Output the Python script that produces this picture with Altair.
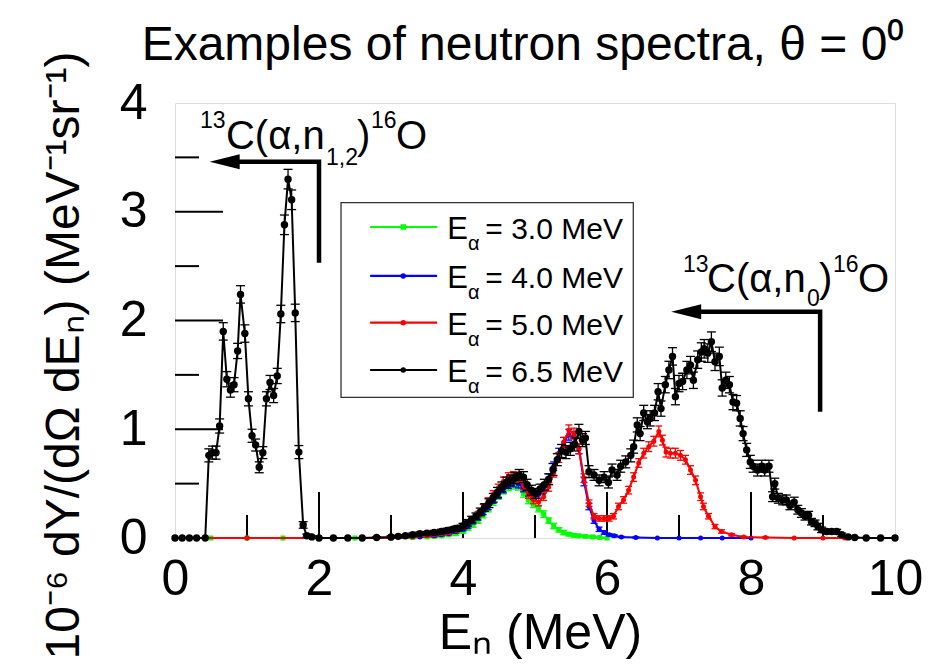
import altair as alt
import pandas as pd

FONT = "Liberation Sans"

# ---------------- data ----------------
# E_alpha = 6.5 MeV (black)
BLACK_E = [0.00, 0.10, 0.20, 0.30, 0.42, 0.47, 0.52, 0.57, 0.62, 0.67,
           0.72, 0.77, 0.82, 0.87, 0.91, 0.97, 1.02, 1.07, 1.12, 1.17,
           1.22, 1.27, 1.32, 1.37, 1.42, 1.47, 1.52, 1.57, 1.62, 1.67,
           1.72, 1.78, 1.83, 1.90, 2.00, 2.20, 2.40, 2.60, 2.80, 3.00,
           3.10, 3.20, 3.30, 3.40, 3.50, 3.60, 3.70, 3.78, 3.86, 3.93,
           4.00, 4.06, 4.12, 4.18, 4.24, 4.30, 4.36, 4.42, 4.48, 4.54,
           4.60, 4.66, 4.72, 4.78, 4.84, 4.89, 4.95, 5.01, 5.07, 5.13,
           5.19, 5.25, 5.31, 5.37, 5.43, 5.49, 5.55, 5.61, 5.66, 5.70,
           5.75, 5.82, 5.89, 5.96, 6.02, 6.07, 6.14, 6.19, 6.26, 6.33,
           6.37, 6.42, 6.46, 6.51, 6.56, 6.60, 6.66, 6.71, 6.75, 6.81,
           6.86, 6.91, 6.95, 7.00, 7.05, 7.11, 7.16, 7.20, 7.26, 7.31,
           7.35, 7.40, 7.45, 7.50, 7.56, 7.60, 7.65, 7.70, 7.75, 7.80,
           7.85, 7.89, 7.94, 7.99, 8.03, 8.09, 8.15, 8.19, 8.25, 8.30,
           8.33, 8.38, 8.44, 8.49, 8.54, 8.60, 8.65, 8.70, 8.75, 8.80,
           8.84, 8.89, 8.93, 8.98, 9.05, 9.12, 9.19, 9.26, 9.35, 9.44,
           9.60, 9.80, 10.00]
BLACK_Y = [0, 0, 0, 0, 0, 0.76, 0.785, 0.785, 1.03, 1.90,
           1.46, 1.36, 1.41, 1.72, 2.24, 1.88, 1.28, 0.94, 0.855, 0.65,
           0.785, 1.28, 1.43, 1.31, 1.49, 2.06, 2.88, 3.30, 3.11, 2.07,
           0.79, 0.12, 0.02, 0.01, 0, 0, 0, 0, 0.005, 0.01,
           0.015, 0.02, 0.03, 0.04, 0.045, 0.05, 0.06, 0.07, 0.08, 0.09,
           0.11, 0.14, 0.17, 0.20, 0.24, 0.28, 0.32, 0.37, 0.42, 0.47,
           0.51, 0.53, 0.55, 0.58, 0.56, 0.49, 0.44, 0.41, 0.45, 0.49,
           0.54, 0.63, 0.72, 0.80, 0.79, 0.82, 0.86, 0.98, 0.90, 0.92,
           0.61, 0.58, 0.53, 0.56, 0.51, 0.625, 0.58, 0.66, 0.70, 0.76,
           0.84, 1.04, 0.96, 1.15, 1.07, 1.10, 1.15, 1.345, 1.19, 1.41,
           1.545, 1.67, 1.30, 1.42, 1.44, 1.545, 1.59, 1.45, 1.64, 1.71,
           1.74, 1.70, 1.805, 1.62, 1.67, 1.38, 1.45, 1.41, 1.25, 1.24,
           1.10, 0.96, 0.81, 0.70, 0.66, 0.625, 0.66, 0.625, 0.66, 0.38,
           0.50, 0.365, 0.35, 0.35, 0.30, 0.33, 0.26, 0.23, 0.20, 0.21,
           0.15, 0.135, 0.105, 0.075, 0.06, 0.06, 0.06, 0.03, 0.01, 0.005,
           0, 0, 0]
BLACK_ERR = [0, 0, 0, 0, 0, 0.06, 0.06, 0.06, 0.065, 0.08,
             0.07, 0.065, 0.065, 0.07, 0.08, 0.08, 0.065, 0.06, 0.055, 0.05,
             0.055, 0.065, 0.065, 0.065, 0.07, 0.08, 0.09, 0.09, 0.09, 0.08,
             0.06, 0.03, 0.015, 0.01, 0, 0, 0, 0, 0.005, 0.01,
             0.01, 0.01, 0.015, 0.015, 0.015, 0.02, 0.02, 0.02, 0.02, 0.025,
             0.025, 0.03, 0.03, 0.03, 0.035, 0.035, 0.04, 0.04, 0.045, 0.045,
             0.05, 0.05, 0.05, 0.05, 0.05, 0.05, 0.045, 0.045, 0.045, 0.05,
             0.05, 0.055, 0.055, 0.06, 0.06, 0.06, 0.06, 0.065, 0.06, 0.06,
             0.055, 0.05, 0.05, 0.05, 0.05, 0.055, 0.05, 0.055, 0.055, 0.06,
             0.06, 0.065, 0.065, 0.07, 0.065, 0.07, 0.07, 0.075, 0.07, 0.075,
             0.08, 0.08, 0.075, 0.075, 0.075, 0.08, 0.08, 0.075, 0.08, 0.085,
             0.085, 0.085, 0.09, 0.08, 0.085, 0.075, 0.075, 0.075, 0.07, 0.07,
             0.07, 0.065, 0.06, 0.06, 0.055, 0.055, 0.055, 0.055, 0.055, 0.045,
             0.05, 0.045, 0.045, 0.045, 0.04, 0.045, 0.04, 0.04, 0.035, 0.035,
             0.03, 0.03, 0.03, 0.025, 0.02, 0.02, 0.02, 0.015, 0.01, 0.005,
             0, 0, 0]

# E_alpha = 3.0 MeV (green)
GREEN_E = [0.0, 0.5, 1.0, 1.5, 2.0, 2.5, 3.0, 3.3, 3.5, 3.6,
           3.7, 3.8, 3.9, 4.0, 4.07, 4.14, 4.21, 4.28, 4.35, 4.42,
           4.49, 4.56, 4.63, 4.70, 4.77, 4.84, 4.91, 4.98, 5.05, 5.12,
           5.19, 5.26, 5.33, 5.40, 5.47, 5.54, 5.61, 5.70, 5.80, 5.90,
           6.00]
GREEN_Y = [0, 0, 0, 0, 0, 0, 0, 0.005, 0.01, 0.015,
           0.02, 0.03, 0.04, 0.06, 0.09, 0.12, 0.16, 0.21, 0.27, 0.33,
           0.39, 0.44, 0.47, 0.49, 0.48, 0.41, 0.35, 0.31, 0.27, 0.22,
           0.16, 0.11, 0.075, 0.05, 0.035, 0.025, 0.02, 0.015, 0.01, 0.005,
           0]
GREEN_ERR = [0, 0, 0, 0, 0, 0, 0, 0.005, 0.005, 0.01,
             0.01, 0.01, 0.015, 0.015, 0.02, 0.02, 0.025, 0.025, 0.03, 0.03,
             0.035, 0.035, 0.035, 0.04, 0.04, 0.035, 0.035, 0.03, 0.03, 0.03,
             0.025, 0.025, 0.02, 0.02, 0.015, 0.015, 0.01, 0.01, 0.01, 0.005,
             0]

# E_alpha = 4.0 MeV (blue)
BLUE_E = [0.0, 1.0, 2.0, 3.0, 3.4, 3.6, 3.7, 3.8, 3.9, 4.0,
          4.07, 4.14, 4.21, 4.28, 4.35, 4.42, 4.49, 4.56, 4.63, 4.70,
          4.77, 4.84, 4.91, 4.98, 5.05, 5.12, 5.19, 5.26, 5.33, 5.40,
          5.47, 5.54, 5.61, 5.68, 5.75, 5.82, 5.89, 5.96, 6.03, 6.10,
          6.20, 6.40, 6.70, 7.00, 7.30, 7.60, 8.00]
BLUE_Y = [0, 0, 0, 0, 0.01, 0.02, 0.03, 0.04, 0.06, 0.08,
          0.11, 0.15, 0.19, 0.24, 0.29, 0.35, 0.40, 0.45, 0.49, 0.51,
          0.50, 0.46, 0.42, 0.39, 0.40, 0.46, 0.55, 0.66, 0.78, 0.88,
          0.95, 0.93, 0.82, 0.52, 0.29, 0.16, 0.08, 0.05, 0.03, 0.02,
          0.01, 0.005, 0, 0, 0, 0, 0]
BLUE_ERR = [0, 0, 0, 0, 0.005, 0.01, 0.01, 0.01, 0.015, 0.015,
            0.02, 0.02, 0.025, 0.025, 0.03, 0.03, 0.035, 0.035, 0.035, 0.04,
            0.04, 0.035, 0.035, 0.035, 0.035, 0.035, 0.04, 0.04, 0.045, 0.045,
            0.05, 0.05, 0.045, 0.04, 0.03, 0.025, 0.02, 0.015, 0.01, 0.01,
            0.005, 0.005, 0, 0, 0, 0, 0]

# E_alpha = 5.0 MeV (red)
RED_E = [0.0, 1.0, 2.0, 3.0, 3.3, 3.5, 3.6, 3.7, 3.8, 3.9,
         4.0, 4.07, 4.14, 4.21, 4.28, 4.35, 4.42, 4.49, 4.56, 4.63,
         4.70, 4.77, 4.84, 4.91, 4.98, 5.05, 5.12, 5.19, 5.26, 5.33,
         5.40, 5.47, 5.54, 5.61, 5.68, 5.75, 5.82, 5.89, 5.96, 6.03,
         6.09, 6.16, 6.23, 6.30, 6.37, 6.44, 6.51, 6.58, 6.65, 6.72,
         6.77, 6.82, 6.88, 6.95, 7.02, 7.09, 7.16, 7.23, 7.30, 7.34,
         7.41, 7.50, 7.59, 7.73, 7.90, 8.20, 8.60, 9.00, 9.30]
RED_Y = [0, 0, 0, 0, 0.01, 0.02, 0.03, 0.04, 0.05, 0.07,
         0.10, 0.13, 0.17, 0.22, 0.28, 0.34, 0.40, 0.46, 0.52, 0.56,
         0.57, 0.55, 0.48, 0.40, 0.35, 0.33, 0.38, 0.47, 0.60, 0.74,
         0.88, 0.99, 0.96, 0.82, 0.55, 0.32, 0.20, 0.18, 0.18, 0.18,
         0.20, 0.29, 0.35, 0.44, 0.56, 0.69, 0.78, 0.84, 0.89, 0.98,
         0.90, 0.79, 0.78, 0.78, 0.76, 0.72, 0.625, 0.53, 0.38, 0.29,
         0.20, 0.105, 0.06, 0.03, 0.01, 0.005, 0, 0, 0]
RED_ERR = [0, 0, 0, 0, 0.005, 0.01, 0.01, 0.01, 0.015, 0.015,
           0.02, 0.02, 0.025, 0.025, 0.03, 0.03, 0.035, 0.035, 0.04, 0.04,
           0.04, 0.04, 0.035, 0.035, 0.035, 0.035, 0.035, 0.04, 0.04, 0.045,
           0.045, 0.05, 0.05, 0.045, 0.04, 0.03, 0.025, 0.025, 0.025, 0.025,
           0.025, 0.03, 0.03, 0.035, 0.04, 0.04, 0.045, 0.045, 0.045, 0.05,
           0.045, 0.045, 0.045, 0.045, 0.045, 0.04, 0.04, 0.04, 0.035, 0.03,
           0.025, 0.02, 0.015, 0.01, 0.005, 0.005, 0, 0, 0]

# axis tick positions
X_LABELS = [0, 2, 4, 6, 8, 10]
Y_LABELS = [0, 1, 2, 3, 4]
X_MAJOR = [2, 4, 6, 8]
X_MINOR = [1, 3, 5, 7, 9]
Y_MAJOR = [1, 2, 3]
Y_MINOR = [0.5, 1.5, 2.5, 3.5]

# legend
LEG_TEXT = ["= 3.0 MeV", "= 4.0 MeV", "= 5.0 MeV", "= 6.5 MeV"]
LEG_COLOR = ["#00ff00", "#0000ff", "#ff0000", "#000000"]
LEG_SHAPE = ["square", "circle", "circle", "circle"]
LEG_ROW_Y = [2.86, 2.41, 1.98, 1.545]
LEG_BOX_X = [2.306, 6.365]
LEG_BOX_Y = [1.294, 3.083]
LEG_LINE_X = [2.71, 3.64]
LEG_MARK_X = 3.17
LEG_E_X = 3.78
LEG_SUB_X = 4.07
LEG_VAL_X = 4.31

# annotations: 13C(a,n_{1,2})16O and 13C(a,n_0)16O
ANN_BIG_T = ["C(α,n", ")", "O", "C(α,n", ")", "O"]
ANN_BIG_X = [0.708, 2.528, 3.069, 7.389, 8.944, 9.486]
ANN_BIG_Y = [3.58, 3.58, 3.58, 2.26, 2.26, 2.26]
ANN_SMALL_T = ["13", "1,2", "16", "13", "0", "16"]
ANN_SMALL_X = [0.347, 2.097, 2.722, 7.056, 8.778, 9.139]
ANN_SMALL_Y = [3.77, 3.43, 3.77, 2.45, 2.13, 2.45]
ARROW_ID = [1, 1, 1, 2, 2, 2]
ARROW_K = [0, 1, 2, 0, 1, 2]
ARROW_X = [0.69, 2.00, 2.00, 7.10, 8.96, 8.96]
ARROW_Y = [3.46, 3.46, 2.53, 2.08, 2.08, 1.16]
HEAD_X = [0.69, 7.10]
HEAD_Y = [3.46, 2.08]

# ---------------- scales / axes ----------------
XS = alt.Scale(domain=[0, 10], nice=False, zero=False)
YS = alt.Scale(domain=[0, 4], nice=False, zero=False)
XA = alt.Axis(title="Eₙ (MeV)", values=X_LABELS, format="d", ticks=False, tickSize=0,
              domain=False, grid=False, labelFont=FONT, labelFontSize=50,
              labelColor="black", labelPadding=56, labelBaseline="alphabetic",
              labelFlush=False, labelOverlap=False,
              titleFont=FONT, titleFontSize=50, titleFontWeight="normal",
              titleColor="black", titleX=365, titleY=110, titleAlign="center",
              titleBaseline="alphabetic")
YA = alt.Axis(title="10⁻⁶ dY/(dΩ dEₙ) (MeV⁻¹sr⁻¹)", values=Y_LABELS, format="d",
              ticks=False, tickSize=0, domain=False, grid=False, labelFont=FONT,
              labelFontSize=50, labelColor="black", labelPadding=28,
              labelFlush=False, labelOverlap=False,
              titleFont=FONT, titleFontSize=48, titleFontWeight="normal",
              titleColor="black", titleAngle=270, titleX=-97, titleY=252,
              titleAlign="center", titleBaseline="alphabetic")


def X(f):
    return alt.X(f"{f}:Q", scale=XS, axis=XA)


def Y(f):
    return alt.Y(f"{f}:Q", scale=YS, axis=YA)


def series_layers(xs, ys, es, color, shape, psize, cap):
    df = pd.DataFrame({"E": xs, "Y": ys, "err": es})
    df["lo"] = df["Y"] - df["err"]
    df["hi"] = df["Y"] + df["err"]
    de = df[df["err"] > 0]
    line = alt.Chart(df).mark_line(color=color, strokeWidth=2).encode(x=X("E"), y=Y("Y"))
    bars = alt.Chart(de).mark_rule(color=color, strokeWidth=1.3).encode(
        x=X("E"), y=Y("lo"), y2="hi:Q")
    cap_lo = alt.Chart(de).mark_tick(orient="horizontal", color=color, size=cap,
                                     thickness=1.3, opacity=1).encode(x=X("E"), y=Y("lo"))
    cap_hi = alt.Chart(de).mark_tick(orient="horizontal", color=color, size=cap,
                                     thickness=1.3, opacity=1).encode(x=X("E"), y=Y("hi"))
    pts = alt.Chart(df).mark_point(shape=shape, filled=True, size=psize, color=color,
                                   opacity=1).encode(x=X("E"), y=Y("Y"))
    return [line, bars, cap_lo, cap_hi, pts]


layers = []

# inner ticks
layers.append(alt.Chart(pd.DataFrame({"v": Y_MAJOR})).mark_rule(color="black", strokeWidth=2)
              .encode(y=Y("v"), x=alt.value(0), x2=alt.value(48)))
layers.append(alt.Chart(pd.DataFrame({"v": Y_MINOR})).mark_rule(color="black", strokeWidth=2)
              .encode(y=Y("v"), x=alt.value(0), x2=alt.value(24)))
layers.append(alt.Chart(pd.DataFrame({"v": X_MAJOR})).mark_rule(color="black", strokeWidth=2)
              .encode(x=X("v"), y=alt.value(435), y2=alt.value(389)))
layers.append(alt.Chart(pd.DataFrame({"v": X_MINOR})).mark_rule(color="black", strokeWidth=2)
              .encode(x=X("v"), y=alt.value(435), y2=alt.value(412)))

layers += series_layers(GREEN_E, GREEN_Y, GREEN_ERR, "#00ff00", "square", 25, 7)
layers += series_layers(BLUE_E, BLUE_Y, BLUE_ERR, "#0000ff", "circle", 25, 7)
layers += series_layers(RED_E, RED_Y, RED_ERR, "#ff0000", "circle", 25, 7)
layers += series_layers(BLACK_E, BLACK_Y, BLACK_ERR, "#000000", "circle", 55, 9)

# legend box
box = pd.DataFrame({"x1": [LEG_BOX_X[0]], "x2": [LEG_BOX_X[1]],
                    "y1": [LEG_BOX_Y[0]], "y2": [LEG_BOX_Y[1]]})
layers.append(alt.Chart(box).mark_rect(fill="white", stroke="#333333", strokeWidth=1.3)
              .encode(x=X("x1"), x2="x2:Q", y=Y("y1"), y2="y2:Q"))
leg = pd.DataFrame({"t": LEG_TEXT, "c": LEG_COLOR, "s": LEG_SHAPE, "ly": LEG_ROW_Y})
leg["x1"] = LEG_LINE_X[0]
leg["x2"] = LEG_LINE_X[1]
leg["mx"] = LEG_MARK_X
leg["ex"] = LEG_E_X
leg["sx"] = LEG_SUB_X
leg["vx"] = LEG_VAL_X
leg["E"] = "E"
leg["sub"] = "α"
layers.append(alt.Chart(leg).mark_rule(strokeWidth=2.2)
              .encode(x=X("x1"), x2="x2:Q", y=Y("ly"), color=alt.Color("c:N", scale=None)))
layers.append(alt.Chart(leg).mark_point(filled=True, size=30, opacity=1)
              .encode(x=X("mx"), y=Y("ly"), color=alt.Color("c:N", scale=None),
                      shape=alt.Shape("s:N", scale=None)))
layers.append(alt.Chart(leg).mark_text(font=FONT, fontSize=31, align="left",
                                       baseline="alphabetic", dy=12, color="black")
              .encode(x=X("ex"), y=Y("ly"), text="E:N"))
layers.append(alt.Chart(leg).mark_text(font=FONT, fontSize=20, align="left",
                                       baseline="alphabetic", dy=23, color="black")
              .encode(x=X("sx"), y=Y("ly"), text="sub:N"))
layers.append(alt.Chart(leg).mark_text(font=FONT, fontSize=30, align="left",
                                       baseline="alphabetic", dy=12, color="black")
              .encode(x=X("vx"), y=Y("ly"), text="t:N"))

# reaction annotations with arrows
arr = pd.DataFrame({"id": ARROW_ID, "k": ARROW_K, "ax": ARROW_X, "ay": ARROW_Y})
layers.append(alt.Chart(arr).mark_line(color="black", strokeWidth=4.5, strokeJoin="miter")
              .encode(x=X("ax"), y=Y("ay"), detail="id:N", order="k:Q"))
heads = pd.DataFrame({"hx": HEAD_X, "hy": HEAD_Y})
layers.append(alt.Chart(heads).mark_point(shape="M -1 0 L 1 -0.5 L 1 0.5 Z", filled=True,
                                          size=900, color="black", opacity=1)
              .encode(x=X("hx"), y=Y("hy")))
big = pd.DataFrame({"t": ANN_BIG_T, "x": ANN_BIG_X, "y": ANN_BIG_Y})
small = pd.DataFrame({"t": ANN_SMALL_T, "x": ANN_SMALL_X, "y": ANN_SMALL_Y})
layers.append(alt.Chart(big).mark_text(font=FONT, fontSize=40, align="left",
                                       baseline="alphabetic", color="black")
              .encode(x=X("x"), y=Y("y"), text="t:N"))
layers.append(alt.Chart(small).mark_text(font=FONT, fontSize=23, align="left",
                                         baseline="alphabetic", color="black")
              .encode(x=X("x"), y=Y("y"), text="t:N"))

chart = alt.layer(*layers).properties(
    width=720, height=435,
    padding={"left": 175, "top": 103, "right": 35, "bottom": 130},
    autosize=alt.AutoSizeParams(type="none"),
    title=alt.TitleParams("Examples of neutron spectra, θ = 0⁰", font=FONT, fontSize=48,
                          fontWeight="normal", color="black", anchor="middle", offset=0,
                          dy=19, dx=-12),
).configure_view(stroke="black", strokeWidth=2.5).configure(background="white")

chart.save("out.html", embed_options={"renderer": "svg", "actions": False})
